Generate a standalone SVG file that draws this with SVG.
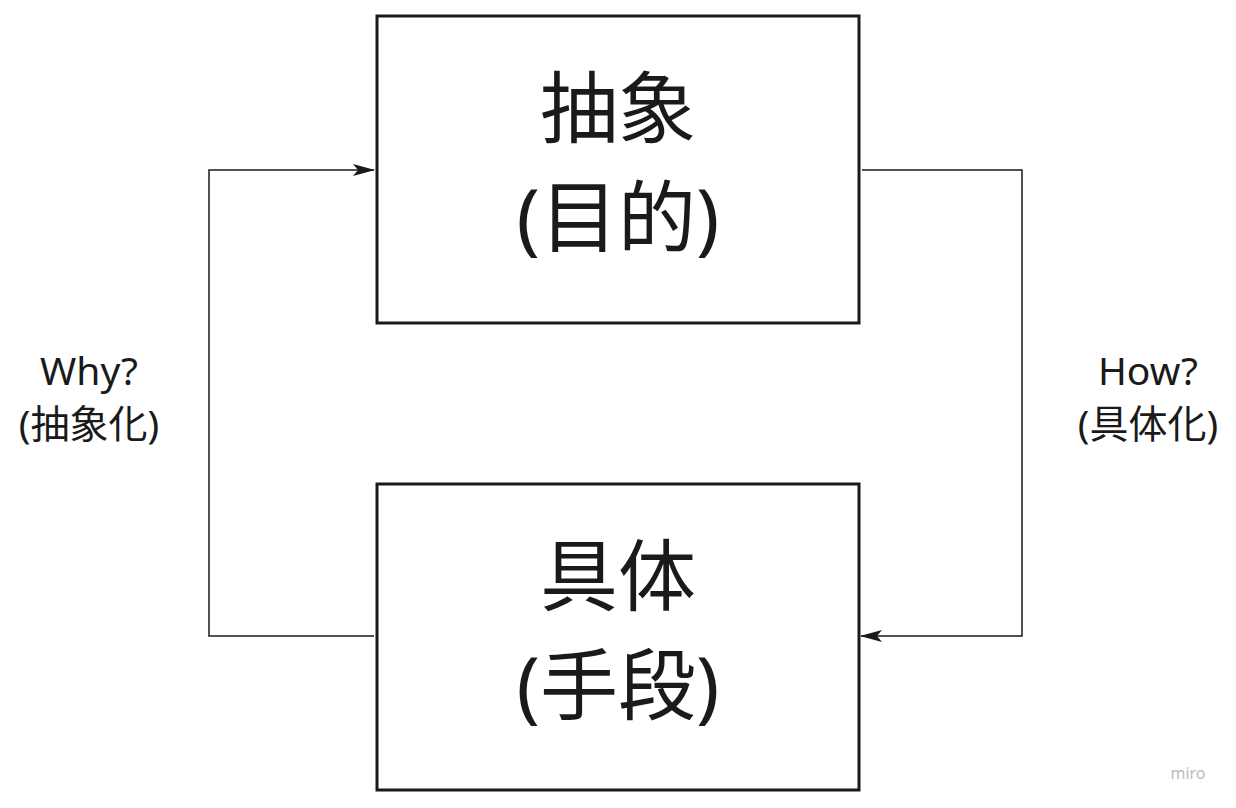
<svg xmlns="http://www.w3.org/2000/svg" width="1236" height="808" viewBox="0 0 1236 808">
<style>
.box{fill:#fff;stroke:#1a1a1a;stroke-width:3}
.big{font-family:"Noto Sans","Noto Sans CJK JP",sans-serif;font-size:78px;fill:#1a1a1a;text-anchor:middle}
.lbl{font-family:"Noto Sans","Noto Sans CJK JP",sans-serif;font-size:39px;fill:#1a1a1a;text-anchor:middle}
.con{fill:none;stroke:#1a1a1a;stroke-width:1.5}
</style>
<defs><marker id="ah" markerWidth="22" markerHeight="12" refX="21" refY="6" orient="auto" markerUnits="userSpaceOnUse"><path d="M0,0 L22,6 L0,12 L5,6 Z" fill="#1a1a1a"/></marker></defs>
<rect width="1236" height="808" fill="#fff"/>
<g id="top"><rect class="box" x="377" y="16" width="482" height="307"/>
<text class="big" x="618" y="137">抽象</text><text class="big" x="618" y="246">(目的)</text></g>
<g id="bottom"><rect class="box" x="377" y="484" width="482" height="306"/>
<text class="big" x="618" y="605">具体</text><text class="big" x="618" y="714">(手段)</text></g>
<g id="connectors">
<path class="con" d="M374,636 H209 V170 H374" marker-end="url(#ah)"/>
<path class="con" d="M862,170 H1022 V636 H861" marker-end="url(#ah)"/>
</g>
<g id="labels">
<text class="lbl" x="89" y="385">Why?</text><text class="lbl" x="89" y="438">(抽象化)</text>
<text class="lbl" x="1148" y="385">How?</text><text class="lbl" x="1148" y="438">(具体化)</text>
</g>
<text x="1188" y="779" font-family="Noto Sans,sans-serif" font-size="16" fill="#bbb" text-anchor="middle">miro</text>
</svg>
